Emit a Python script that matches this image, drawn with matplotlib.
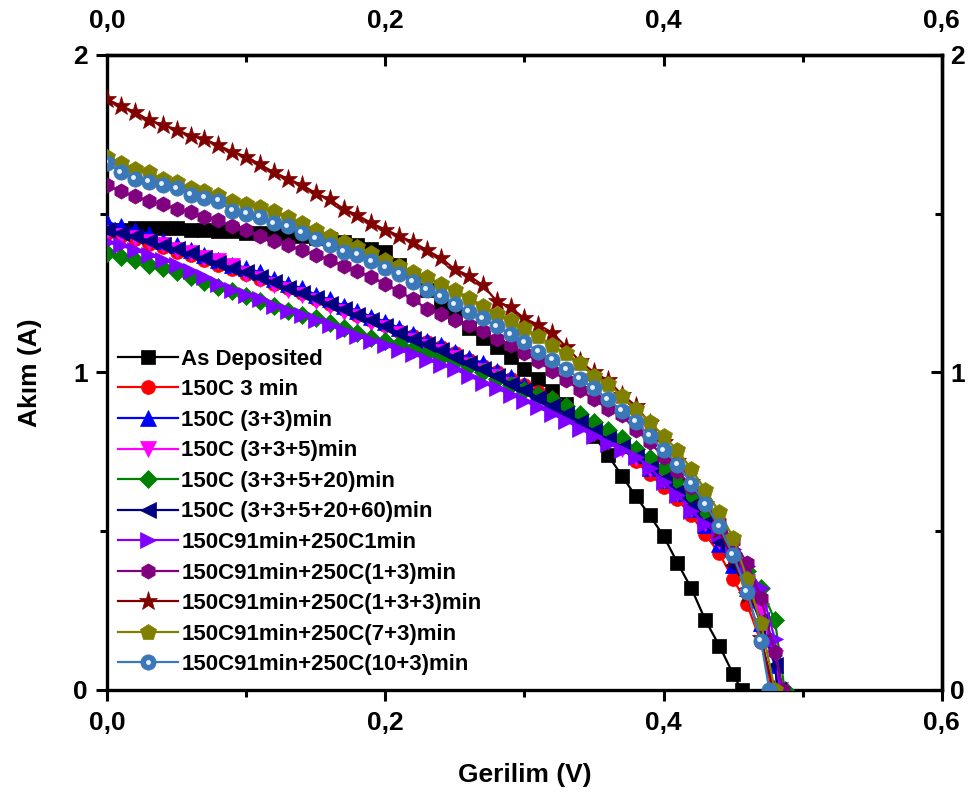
import matplotlib
matplotlib.use("Agg")
import matplotlib.pyplot as plt
from matplotlib.ticker import MultipleLocator, FuncFormatter
from matplotlib.legend_handler import HandlerTuple
from matplotlib.transforms import offset_copy

plt.rcParams['font.family'] = ['Liberation Sans', 'DejaVu Sans']
plt.rcParams['font.weight'] = 'bold'

# Voltage sweep (V)
voltage = [0.00, 0.01, 0.02, 0.03, 0.04, 0.05, 0.06, 0.07, 0.08, 0.09,
           0.10, 0.11, 0.12, 0.13, 0.14, 0.15, 0.16, 0.17, 0.18, 0.19,
           0.20, 0.21, 0.22, 0.23, 0.24, 0.25, 0.26, 0.27, 0.28, 0.29,
           0.30, 0.31, 0.32, 0.33, 0.34, 0.35, 0.36, 0.37, 0.38, 0.39,
           0.40, 0.41, 0.42, 0.43, 0.44, 0.45, 0.46, 0.47, 0.48]

labels = ["As Deposited", "150C 3 min", "150C (3+3)min", "150C (3+3+5)min",
          "150C (3+3+5+20)min", "150C (3+3+5+20+60)min", "150C91min+250C1min",
          "150C91min+250C(1+3)min", "150C91min+250C(1+3+3)min",
          "150C91min+250C(7+3)min", "150C91min+250C(10+3)min"]

# Current (A) at each sweep voltage, followed by open-circuit voltage (V)
i_as_deposited = [1.45, 1.45, 1.455, 1.455, 1.455, 1.455, 1.45, 1.45, 1.445, 1.445,
                  1.44, 1.44, 1.435, 1.43, 1.43, 1.425, 1.42, 1.41, 1.40, 1.39,
                  1.38, 1.34, 1.30, 1.26, 1.22, 1.18, 1.14, 1.11, 1.08, 1.05,
                  1.01, 0.978, 0.943, 0.90, 0.855, 0.80, 0.74, 0.675, 0.61, 0.55,
                  0.485, 0.40, 0.32, 0.22, 0.14, 0.05]
voc_as_deposited = 0.456

i_3 = [1.44, 1.43, 1.42, 1.405, 1.395, 1.38, 1.37, 1.355, 1.34, 1.325,
       1.31, 1.295, 1.28, 1.265, 1.25, 1.23, 1.215, 1.20, 1.18, 1.165,
       1.15, 1.13, 1.115, 1.095, 1.08, 1.06, 1.04, 1.02, 1.0, 0.98,
       0.96, 0.94, 0.915, 0.89, 0.86, 0.83, 0.80, 0.765, 0.72, 0.68,
       0.64, 0.60, 0.55, 0.49, 0.43, 0.35, 0.27, 0.15]
voc_3 = 0.478

i_3_3 = [1.475, 1.46, 1.45, 1.435, 1.415, 1.40, 1.385, 1.37, 1.355, 1.34,
         1.33, 1.315, 1.295, 1.28, 1.265, 1.245, 1.23, 1.21, 1.195, 1.175,
         1.16, 1.14, 1.12, 1.10, 1.085, 1.065, 1.045, 1.03, 1.005, 0.985,
         0.96, 0.935, 0.91, 0.885, 0.86, 0.835, 0.805, 0.775, 0.74, 0.70,
         0.66, 0.62, 0.57, 0.52, 0.46, 0.395, 0.32, 0.21, 0.08]
voc_3_3 = 0.482

i_3_3_5 = [1.44, 1.43, 1.425, 1.41, 1.40, 1.385, 1.375, 1.36, 1.35, 1.335,
           1.31, 1.295, 1.275, 1.26, 1.245, 1.225, 1.21, 1.19, 1.175, 1.155,
           1.14, 1.12, 1.10, 1.08, 1.065, 1.045, 1.025, 1.005, 0.985, 0.96,
           0.94, 0.915, 0.89, 0.865, 0.84, 0.81, 0.785, 0.76, 0.73, 0.695,
           0.66, 0.62, 0.57, 0.525, 0.47, 0.41, 0.34, 0.25, 0.10]
voc_3_3_5 = 0.484

i_3_3_5_20 = [1.375, 1.365, 1.355, 1.34, 1.33, 1.315, 1.30, 1.285, 1.27, 1.255,
              1.24, 1.225, 1.21, 1.195, 1.18, 1.17, 1.155, 1.14, 1.125, 1.11,
              1.10, 1.09, 1.075, 1.06, 1.05, 1.035, 1.02, 1.00, 0.98, 0.96,
              0.945, 0.93, 0.915, 0.895, 0.87, 0.845, 0.82, 0.795, 0.76, 0.73,
              0.70, 0.66, 0.61, 0.565, 0.505, 0.43, 0.375, 0.32, 0.22]
voc_3_3_5_20 = 0.487

i_3_3_5_20_60 = [1.45, 1.44, 1.43, 1.415, 1.40, 1.39, 1.375, 1.36, 1.345, 1.33,
                 1.315, 1.30, 1.285, 1.265, 1.25, 1.235, 1.215, 1.20, 1.18, 1.165,
                 1.145, 1.125, 1.105, 1.09, 1.07, 1.05, 1.03, 1.01, 0.99, 0.965,
                 0.945, 0.92, 0.895, 0.87, 0.845, 0.815, 0.79, 0.765, 0.735, 0.70,
                 0.665, 0.625, 0.58, 0.525, 0.465, 0.395, 0.32, 0.22, 0.08]
voc_3_3_5_20_60 = 0.482

i_250_1 = [1.41, 1.40, 1.385, 1.37, 1.355, 1.34, 1.32, 1.30, 1.28, 1.26,
           1.245, 1.23, 1.21, 1.195, 1.18, 1.165, 1.15, 1.13, 1.115, 1.10,
           1.085, 1.07, 1.058, 1.04, 1.025, 1.01, 0.99, 0.967, 0.95, 0.93,
           0.91, 0.89, 0.868, 0.848, 0.822, 0.80, 0.776, 0.756, 0.735, 0.70,
           0.655, 0.615, 0.565, 0.522, 0.49, 0.445, 0.39, 0.32, 0.16]
voc_250_1 = 0.484

i_250_1_3 = [1.59, 1.57, 1.555, 1.54, 1.53, 1.515, 1.505, 1.49, 1.48, 1.46,
             1.45, 1.43, 1.415, 1.40, 1.385, 1.37, 1.355, 1.335, 1.32, 1.30,
             1.28, 1.255, 1.23, 1.20, 1.185, 1.165, 1.15, 1.13, 1.105, 1.085,
             1.06, 1.035, 1.005, 0.975, 0.945, 0.915, 0.885, 0.865, 0.82, 0.78,
             0.735, 0.69, 0.64, 0.59, 0.53, 0.47, 0.40, 0.29, 0.12]
voc_250_1_3 = 0.486

i_250_1_3_3 = [1.86, 1.84, 1.82, 1.795, 1.78, 1.765, 1.745, 1.735, 1.715, 1.695,
               1.68, 1.655, 1.63, 1.61, 1.59, 1.565, 1.545, 1.515, 1.495, 1.47,
               1.45, 1.43, 1.41, 1.385, 1.36, 1.325, 1.305, 1.275, 1.225, 1.205,
               1.17, 1.15, 1.125, 1.08, 1.035, 1.0, 0.975, 0.93, 0.895, 0.84,
               0.78, 0.72, 0.655, 0.585, 0.505, 0.415, 0.30, 0.165]
voc_250_1_3_3 = 0.479

i_250_7_3 = [1.68, 1.66, 1.64, 1.63, 1.61, 1.60, 1.58, 1.57, 1.56, 1.54,
             1.53, 1.52, 1.51, 1.49, 1.47, 1.45, 1.43, 1.41, 1.395, 1.375,
             1.355, 1.335, 1.315, 1.30, 1.28, 1.26, 1.235, 1.21, 1.185, 1.165,
             1.14, 1.115, 1.085, 1.06, 1.03, 0.99, 0.965, 0.925, 0.885, 0.845,
             0.80, 0.755, 0.695, 0.63, 0.56, 0.48, 0.35, 0.21]
voc_250_7_3 = 0.480

i_250_10_3 = [1.66, 1.63, 1.61, 1.60, 1.59, 1.58, 1.56, 1.55, 1.54, 1.51,
              1.50, 1.49, 1.47, 1.46, 1.44, 1.42, 1.40, 1.38, 1.37, 1.35,
              1.33, 1.31, 1.285, 1.26, 1.24, 1.215, 1.19, 1.17, 1.145, 1.12,
              1.095, 1.065, 1.04, 1.01, 0.98, 0.95, 0.915, 0.88, 0.845, 0.80,
              0.755, 0.71, 0.65, 0.585, 0.515, 0.425, 0.31, 0.155]
voc_250_10_3 = 0.476

currents = [i_as_deposited, i_3, i_3_3, i_3_3_5, i_3_3_5_20, i_3_3_5_20_60,
            i_250_1, i_250_1_3, i_250_1_3_3, i_250_7_3, i_250_10_3]
vocs = [voc_as_deposited, voc_3, voc_3_3, voc_3_3_5, voc_3_3_5_20, voc_3_3_5_20_60,
        voc_250_1, voc_250_1_3, voc_250_1_3_3, voc_250_7_3, voc_250_10_3]

colors = ["#000000", "#ff0000", "#0000ff", "#ff00ff", "#008000", "#000080",
          "#8000ff", "#800080", "#800000", "#808000", "#3a78b8"]
markers = ["s", "o", "^", "v", "D", "<", ">", "h", "*", "p", "o"]
msizes = [10, 10, 11, 11, 9, 11, 11, 11, 14, 12, 11]

fig = plt.figure(figsize=(9.73, 8.01), dpi=100)
ax = fig.add_axes([0.110, 0.1386, 0.858, 0.7928])

handles = []
for k, (cur, voc) in enumerate(zip(currents, vocs)):
    xs = voltage[:len(cur)] + [voc]
    ys = cur + [0.0]
    line, = ax.plot(xs, ys, color=colors[k], lw=1.6, marker=markers[k],
                    ms=msizes[k], mec=colors[k], mfc=colors[k], mew=0.5,
                    clip_on=True, zorder=2 + k)
    if k == len(currents) - 1:
        # glossy highlight on the sphere markers
        hl_tr = offset_copy(ax.transData, fig=fig, x=-1.2, y=1.2, units='points')
        hl, = ax.plot(xs[:-1], ys[:-1], ls='none', marker='o', ms=3.5,
                      mfc='#e8f2ff', mec='none', transform=hl_tr, zorder=3 + k)
        hl_leg, = ax.plot([], [], ls='none', marker='o', ms=3.5,
                          mfc='#e8f2ff', mec='none')
        handles.append((line, hl_leg))
    else:
        handles.append(line)

ax.set_xlim(0, 0.6)
ax.set_ylim(0, 2)

fmt = FuncFormatter(lambda v, p: f"{v:.1f}".replace(".", ","))
ax.xaxis.set_major_locator(MultipleLocator(0.2))
ax.xaxis.set_minor_locator(MultipleLocator(0.1))
ax.xaxis.set_major_formatter(fmt)
ax.yaxis.set_major_locator(MultipleLocator(1))
ax.yaxis.set_minor_locator(MultipleLocator(0.5))
ax.yaxis.set_major_formatter(FuncFormatter(lambda v, p: f"{v:.0f}"))

for sp in ax.spines.values():
    sp.set_linewidth(2.4)

ax.tick_params(axis='x', which='both', bottom=True, top=False, direction='out',
               labelsize=19, width=2.2, pad=7)
ax.tick_params(axis='y', which='both', left=True, right=False, direction='out',
               labelsize=19, width=2.2, pad=6)
ax.tick_params(which='major', length=8)
ax.tick_params(which='minor', length=5)

# mirrored top / right axes
axt = ax.secondary_xaxis('top')
axt.xaxis.set_major_locator(MultipleLocator(0.2))
axt.xaxis.set_minor_locator(MultipleLocator(0.1))
axt.xaxis.set_major_formatter(fmt)
axt.tick_params(which='both', direction='in', labelsize=19, width=2.2, pad=16)
axt.tick_params(which='major', length=8)
axt.tick_params(which='minor', length=5)
axt.spines['top'].set_linewidth(2.4)

axr = ax.secondary_yaxis('right')
axr.yaxis.set_major_locator(MultipleLocator(1))
axr.yaxis.set_minor_locator(MultipleLocator(0.5))
axr.yaxis.set_major_formatter(FuncFormatter(lambda v, p: f"{v:.0f}"))
axr.tick_params(which='both', direction='in', labelsize=19, width=2.2, pad=6)
axr.tick_params(which='major', length=8)
axr.tick_params(which='minor', length=5)
axr.spines['right'].set_linewidth(2.4)

ax.set_xlabel("Gerilim (V)", fontsize=19, fontweight='bold', labelpad=20)
ax.set_ylabel("Akım (A)", fontsize=19, fontweight='bold', labelpad=22)

leg = ax.legend(handles, labels, loc='upper left', bbox_to_anchor=(0.0, 0.555),
                frameon=False, fontsize=16, handlelength=2.7, handletextpad=0.15,
                labelspacing=0.43, borderpad=0.2, borderaxespad=0.3, numpoints=1,
                handler_map={tuple: HandlerTuple(ndivide=1, pad=0)})
for t in leg.get_texts():
    t.set_fontweight('bold')

fig.savefig("out.png", dpi=100)
